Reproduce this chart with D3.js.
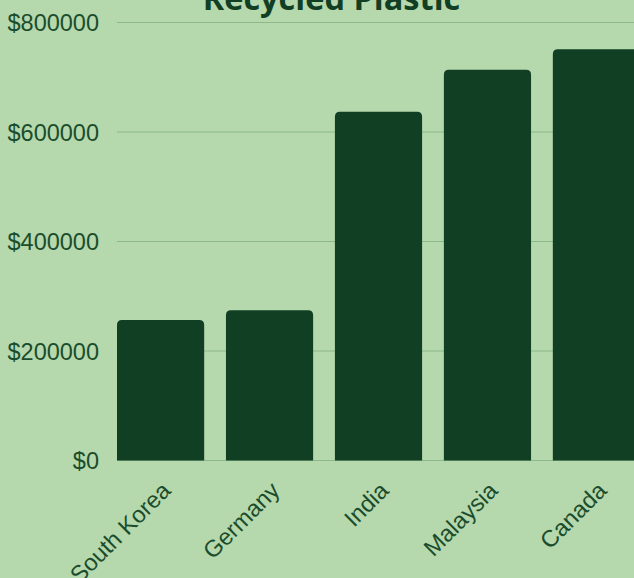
<!DOCTYPE html>
<html>
<head>
<meta charset="utf-8">
<script src="https://cdn.jsdelivr.net/npm/d3@7"></script>
<style>
  html, body { margin: 0; padding: 0; background: #b5d8ad; overflow: hidden; }
  svg { display: block; }
</style>
</head>
<body>
<svg id="chart" width="634" height="578"></svg>
<script>
const categories = ["South Korea", "Germany", "India", "Malaysia", "Canada"];
const values = [256500, 274500, 637000, 713500, 751000];
const yTicks = [0, 200000, 400000, 600000, 800000];
const title = "Recycled Plastic";

const W = 634, H = 578;
const bg = "#b5d8ad", barColor = "#113f24", textColor = "#1b4d2c", gridColor = "#8db88a";

const svg = d3.select("#chart");
svg.append("rect").attr("width", W).attr("height", H).attr("fill", bg);

const x = d3.scaleBand().domain(categories).range([117, 640]).paddingInner(0.2).paddingOuter(0);
const y = d3.scaleLinear().domain([0, 800000]).range([460.5, 22.5]);

// gridlines
svg.append("g").selectAll("line").data(yTicks).join("line")
  .attr("x1", 117).attr("x2", W)
  .attr("y1", d => y(d)).attr("y2", d => y(d))
  .attr("stroke", gridColor).attr("stroke-width", 1.2);

// y axis labels
const yAxis = d3.axisLeft(y).tickValues(yTicks).tickSize(0).tickPadding(0)
  .tickFormat(d => "$" + d);
const gy = svg.append("g").attr("transform", "translate(99,0)").call(yAxis);
gy.select(".domain").remove();
gy.selectAll("text")
  .attr("fill", textColor)
  .attr("font-family", "'Liberation Sans', Arial, sans-serif")
  .attr("font-size", 23.5)
  .attr("dy", "0.35em");

// bars with rounded top corners
const r = 5;
function barPath(x0, w, yTop, yBot) {
  return `M${x0},${yBot} L${x0},${yTop + r} Q${x0},${yTop} ${x0 + r},${yTop} L${x0 + w - r},${yTop} Q${x0 + w},${yTop} ${x0 + w},${yTop + r} L${x0 + w},${yBot} Z`;
}
svg.append("g").selectAll("path").data(categories).join("path")
  .attr("d", (c, i) => barPath(x(c), x.bandwidth(), y(values[i]), y(0)))
  .attr("fill", barColor);

// x axis labels
const xAxis = d3.axisBottom(x).tickSize(0).tickPadding(0);
const gx = svg.append("g").attr("transform", "translate(0,460)").call(xAxis);
gx.select(".domain").remove();
gx.selectAll("text")
  .attr("fill", textColor)
  .attr("font-family", "'Liberation Sans', Arial, sans-serif")
  .attr("font-size", 23.5)
  .attr("text-anchor", "end")
  .attr("y", 0).attr("dy", 0)
  .attr("transform", "translate(11.5,32) rotate(-45)");

// title
svg.append("text")
  .attr("x", 331.5).attr("y", 10)
  .attr("text-anchor", "middle")
  .attr("font-family", "'Open Sans', sans-serif")
  .attr("font-weight", "bold")
  .attr("font-size", 32.5)
  .attr("fill", "#123f24")
  .text(title);
</script>
</body>
</html>
